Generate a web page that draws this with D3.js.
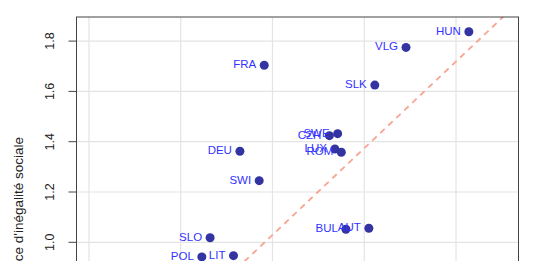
<!DOCTYPE html>
<html>
<head>
<meta charset="utf-8">
<script src="https://cdn.jsdelivr.net/npm/d3@7"></script>
<style>
  body { margin: 0; background: #fff; }
  svg { display: block; font-family: "Liberation Sans", Arial, sans-serif; }
</style>
</head>
<body>
<div id="chart"></div>
<script>
// country codes, and their two scores (x is cut off below the frame)
const countries = ["HUN", "VLG", "FRA", "SLK", "SWE", "CZH", "DEU", "LUX", "ROM", "SWI", "AUT", "BUL", "SLO", "LIT", "POL"];
const xValues = [1.628, 1.491, 1.182, 1.423, 1.342, 1.324, 1.129, 1.336, 1.350, 1.171, 1.410, 1.360, 1.064, 1.115, 1.046];
const yValues = [1.837, 1.775, 1.704, 1.625, 1.432, 1.424, 1.362, 1.371, 1.358, 1.245, 1.056, 1.052, 1.018, 0.947, 0.942];
const yTicks = [1.0, 1.2, 1.4, 1.6, 1.8];
const xTicks = [0.8, 1.0, 1.2, 1.4, 1.6];
// dashed reference line, given by two points in data units
const refLine = [[1.183, 1.0], [1.647, 1.8]];

const width = 533, height = 261;
// the plot frame runs past the bottom of the window
const box = {left: 76.5, top: 17, right: 518.5, bottom: 300};

const svg = d3.select("#chart")
  .append("svg")
    .attr("width", width)
    .attr("height", height);

const x = d3.scaleLinear().domain([0.7728, 1.7362]).range([box.left, box.right]);
const y = d3.scaleLinear().domain([0.7706, 1.8958]).range([box.bottom, box.top]);

svg.append("clipPath").attr("id", "plotclip")
  .append("rect")
    .attr("x", box.left).attr("y", box.top)
    .attr("width", box.right - box.left).attr("height", box.bottom - box.top);

const plot = svg.append("g").attr("clip-path", "url(#plotclip)");

// light grid
plot.selectAll(".gx")
  .data(xTicks)
  .join("line")
    .attr("x1", d => x(d)).attr("x2", d => x(d))
    .attr("y1", box.top).attr("y2", box.bottom)
    .attr("stroke", "#e4e4e4").attr("stroke-width", 1.2);

plot.selectAll(".gy")
  .data(yTicks)
  .join("line")
    .attr("y1", d => y(d)).attr("y2", d => y(d))
    .attr("x1", box.left).attr("x2", box.right)
    .attr("stroke", "#e4e4e4").attr("stroke-width", 1.2);

// dashed line extended across the whole frame
const slope = (refLine[1][1] - refLine[0][1]) / (refLine[1][0] - refLine[0][0]);
const icept = refLine[0][1] - slope * refLine[0][0];
const xd = x.domain();
plot.append("line")
  .attr("x1", x(xd[0])).attr("y1", y(icept + slope * xd[0]))
  .attr("x2", x(xd[1])).attr("y2", y(icept + slope * xd[1]))
  .attr("stroke", "#f7a490")
  .attr("stroke-width", 1.8)
  .attr("stroke-dasharray", "6,5");

// points
plot.selectAll("circle")
  .data(countries)
  .join("circle")
    .attr("cx", (d, i) => x(xValues[i]))
    .attr("cy", (d, i) => y(yValues[i]))
    .attr("r", 4.5)
    .attr("fill", "#3333a2");

// labels to the left of each point
plot.selectAll(".lab")
  .data(countries)
  .join("text")
    .attr("x", (d, i) => x(xValues[i]) - 8)
    .attr("y", (d, i) => y(yValues[i]) - 1)
    .attr("dy", "0.35em")
    .attr("text-anchor", "end")
    .attr("font-size", "11.5px")
    .attr("fill", "#3333ff")
    .text(d => d);

// frame
svg.append("rect")
  .attr("x", box.left).attr("y", box.top)
  .attr("width", box.right - box.left).attr("height", box.bottom - box.top)
  .attr("fill", "none")
  .attr("stroke", "#444")
  .attr("stroke-width", 1);

// y axis, R style: ticks outside, labels parallel to the axis
const yAxis = svg.append("g");
yAxis.selectAll("line")
  .data(yTicks)
  .join("line")
    .attr("x1", box.left - 8).attr("x2", box.left)
    .attr("y1", d => y(d)).attr("y2", d => y(d))
    .attr("stroke", "#444");

yAxis.selectAll("text")
  .data(yTicks)
  .join("text")
    .attr("transform", d => `translate(54, ${y(d)}) rotate(-90)`)
    .attr("text-anchor", "middle")
    .attr("font-size", "12.5px")
    .attr("fill", "#222")
    .text(d => d.toFixed(1));

// the title starts below the window, as in the original crop
svg.append("text")
  .attr("transform", "translate(22.5, 137) rotate(-90)")
  .attr("text-anchor", "end")
  .attr("font-size", "13.5px")
  .attr("fill", "#222")
  .text("Indice d'inégalité sociale");
</script>
</body>
</html>
